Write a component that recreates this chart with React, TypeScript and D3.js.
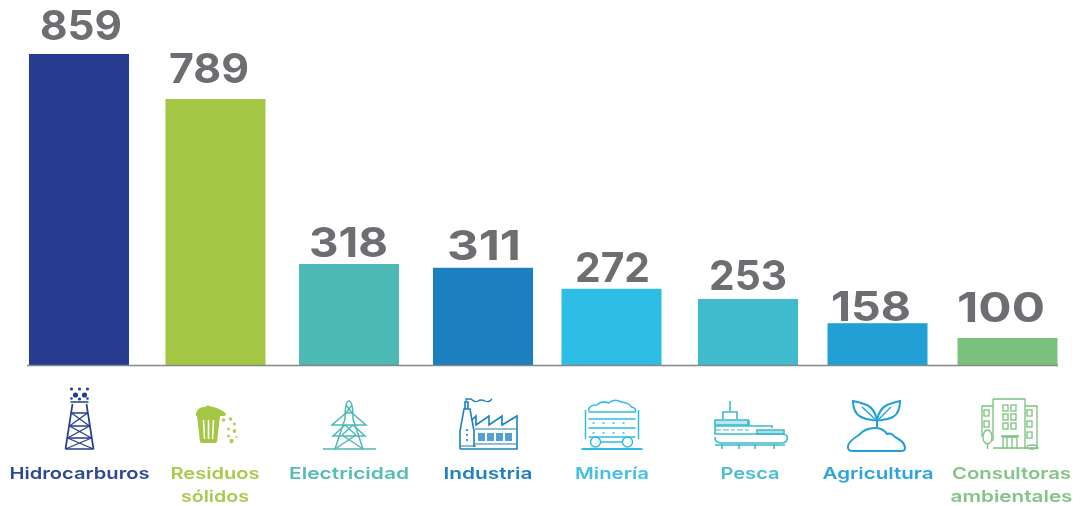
import React from "react";
import * as d3 from "d3";

const categories = ["Hidrocarburos", "Residuos sólidos", "Electricidad", "Industria", "Minería", "Pesca", "Agricultura", "Consultoras ambientales"];
const values = [859, 789, 318, 311, 272, 253, 158, 100];
const colors = ["#253c8f", "#a3c644", "#4db9b5", "#1c80c0", "#2fbde4", "#3fbacd", "#20a0d6", "#7bc07f"];
const labelColors = ["#2f4796", "#a8cb4c", "#55bcb6", "#2180c2", "#45bfe8", "#4dbdd0", "#2fa3dc", "#85c488"];
const labelLines = [["Hidrocarburos"], ["Residuos", "sólidos"], ["Electricidad"], ["Industria"], ["Minería"], ["Pesca"], ["Agricultura"], ["Consultoras", "ambientales"]];

// Layout of the source graphic: uneven column centres, and a non-proportional value→height mapping
const centers = [79, 215.5, 349, 483, 611.5, 748, 877.5, 1007.5];
const valueCenters = [81, 209, 348.5, 484, 612.5, 748, 871, 1001];
const valueWidths = [82, 80, 79, 74, 75, 78, 80, 88];
const valueGaps = [14, 16, 7, 8, 7, 9, 2, 16];
const labelCenters = [79.5, 215, 349, 488, 612, 750, 878, 1011.5];
const labelWidths = [140, 89, 120, 89, 74, 59, 111, 119];
const labelWidths2 = [0, 68, 0, 0, 0, 0, 0, 122];
const BAR_W = 100;
const BASE = 365;
const heightDomain = [0, 100, 253, 318, 789, 859];
const heightRange = [0, 27, 66, 101, 266, 311];

const x = d3.scaleOrdinal<string, number>().domain(categories).range(centers);
const h = d3.scaleLinear().domain(heightDomain).range(heightRange);

const FONT = "Inter, 'DejaVu Sans', sans-serif";

function Rig({ c }: { c: string }) {
  return (
    <g transform="translate(79.5,449)" fill="none" stroke={c} strokeWidth={1.7}>
      <path d="M-14,0H14M-14,0L-7,-45M14,0L7,-45M-9,-47H9M-8,-36H8M-10,-23H10M-12,-11H12" />
      <path d="M-8,-36L10,-23M8,-36L-10,-23M-10,-23L12,-11M10,-23L-12,-11M-12,-11L14,0M12,-11L-14,0" strokeWidth={1.2} />
      <g fill={c} stroke="none">
        <circle cx={-8} cy={-60} r={1.6} /><circle cx={0} cy={-60} r={1.6} /><circle cx={8} cy={-60} r={1.6} />
        <circle cx={-4} cy={-54} r={2.6} /><circle cx={5} cy={-54} r={2.6} />
        <circle cx={-8} cy={-50.5} r={1.3} /><circle cx={8} cy={-50.5} r={1.3} /><circle cx={0} cy={-50} r={1.6} />
      </g>
    </g>
  );
}

function Bin({ c }: { c: string }) {
  return (
    <g transform="translate(208.5,443)">
      <path d="M-11.5,-27H11.5L8.5,-1Q8,0 6,0H-6Q-8,0 -8.5,-1Z" fill={c} />
      <path d="M-5,-23L-4,-4M0,-23V-4M5,-23L4,-4" stroke="#fff" strokeWidth={1.6} fill="none" />
      <path d="M-12.5,-30Q-10,-37 -3,-36Q-1,-38.5 2,-36.5Q10,-36 18,-29L16,-27H-12.5Z" fill={c} />
      <g fill={c} opacity={0.85}>
        <circle cx={15} cy={-23} r={1.8} /><circle cx={22} cy={-24} r={1.8} /><circle cx={26} cy={-19} r={1.5} />
        <circle cx={20} cy={-14} r={1.4} /><circle cx={26} cy={-12} r={1.9} /><circle cx={20} cy={-7} r={1.5} />
        <circle cx={23} cy={-2} r={2.2} /><circle cx={28} cy={-6} r={1.1} />
      </g>
    </g>
  );
}

function Pylon({ c }: { c: string }) {
  return (
    <g transform="translate(349,449)" fill="none" stroke={c} strokeWidth={1.5}>
      <path d="M-26,0H27" strokeWidth={1.6} />
      <path d="M-14,0L-4,-30Q-4,-48 0,-48Q4,-48 4,-30L14,0" />
      <path d="M-14,0L7,-14M14,0L-7,-14M-7,-14L4,-24M7,-14L-4,-24" />
      <path d="M-16,-13H16L4,-24H-4ZM-17,-24H17L3,-36H-3Z" />
      <path d="M-3,-36L3,-44M3,-36L-3,-44" />
    </g>
  );
}

function Factory({ c }: { c: string }) {
  return (
    <g transform="translate(459,449)" fill="none" stroke={c} strokeWidth={1.6}>
      <path d="M1,0H58V-33L43,-24V-33L30,-24V-33L17,-24V-33L13,-29" />
      <path d="M1,0V-18L5,-40H11L15,-18V-2" />
      <path d="M6,-40V-47H9V-40" />
      <path d="M7,-47V-50H12Q16,-46 19,-48T26,-48T33,-50" strokeWidth={1.3} />
      <path d="M16,-20H57M16,-5H57M1,-3H17" strokeWidth={1.2} />
      <g fill={c} opacity={0.75} stroke="none">
        {[18, 27, 36, 45].map((px) => <rect key={px} x={px + 1} y={-16} width={7} height={8} />)}
      </g>
      <path d="M8,-20V-6" strokeDasharray="2 3" />
    </g>
  );
}

function Cart({ c }: { c: string }) {
  return (
    <g transform="translate(612.5,449)" fill="none" stroke={c} strokeWidth={1.5}>
      <path d="M-31,0H30" strokeWidth={2} />
      <path d="M-27,-39V-10M26,-39V-10M-24,-37H23M-24,-30H23M-24,-21H23M-24,-12H23" />
      <path d="M-24,-38Q-24,-44 -16,-44Q-10,-49 -4,-46Q2,-51 9,-47Q17,-46 19,-42Q24,-41 23,-37" />
      <path d="M-20,-26H19M-20,-16H19" strokeDasharray="2 8" />
      <circle cx={-17} cy={-7} r={5} /><circle cx={15} cy={-7} r={5} />
      <path d="M-12,-7H10" />
    </g>
  );
}

function Ship({ c }: { c: string }) {
  return (
    <g transform="translate(751,449)" fill="none" stroke={c} strokeWidth={1.6}>
      <path d="M-36,-23V-15H30Q38,-15 36,-9Q35,-6 30,-6H-30Q-36,-6 -36,-12" />
      <path d="M-29,-5V0M-12,-5V0M4,-5V0M23,-5V0M-36,-4H34" />
      <path d="M-36,-23H-2V-29M-2,-23H21V-21" />
      <path d="M-36,-29H-3V-24H-36Z" fill={c} fillOpacity={0.35} />
      <path d="M6,-15V-19H33V-15Z" fill={c} fillOpacity={0.45} />
      <path d="M-28,-30V-37H-14V-30M-21,-37V-48" />
      <path d="M-36,-19H-16M-14,-19H-2" strokeDasharray="6 2" strokeWidth={1.2} />
    </g>
  );
}

function Plant({ c }: { c: string }) {
  return (
    <g transform="translate(877,451)" fill="none" stroke={c} strokeWidth={2}>
      <path d="M-24,0Q-30,0 -29,-5Q-28,-10 -18,-16Q-12,-23 -2,-23Q6,-23 10,-17Q14,-19 18,-14Q28,-9 28,-3Q28,0 24,0Z" />
      <path d="M0,-23V-31" />
      <path d="M0,-31Q-2,-42 -10,-46Q-18,-49 -24,-50Q-24,-38 -16,-34Q-8,-30 0,-31Z" />
      <path d="M0,-31Q2,-42 10,-46Q18,-49 23,-50Q23,-38 16,-34Q8,-30 0,-31Z" />
      <path d="M-2,-32L-15,-44M2,-32L14,-44" strokeWidth={1.4} />
    </g>
  );
}

function Building({ c }: { c: string }) {
  const win = [[-14, -36], [-6, -36], [-14, -27], [-6, -27], [-14, -18], [-6, -18]];
  return (
    <g transform="translate(1015,449)" fill="none" stroke={c} strokeWidth={1.3}>
      <path d="M-22,-8V-43H-33V-12M-22,-50V-8M-22,-50H10V0M10,-43H22V-2M-22,-1H24" />
      <path d="M-12,0V-12H2V0M-8,-12V0M-3,-12V0M-14,-13H4" />
      {win.map(([a, b]) => <rect key={`${a}${b}`} x={a + 2} y={b - 8} width={5} height={6} />)}
      <rect x={12} y={-39} width={5} height={6} /><rect x={12} y={-28} width={5} height={6} /><rect x={12} y={-17} width={5} height={6} />
      <rect x={-31} y={-39} width={5} height={6} /><rect x={-31} y={-28} width={5} height={6} />
      <ellipse cx={-27.5} cy={-12} rx={4.5} ry={7} />
      <path d="M-27.5,-5V0" />
      <ellipse cx={17} cy={-2} rx={5} ry={2} />
    </g>
  );
}

const icons = [Rig, Bin, Pylon, Factory, Cart, Ship, Plant, Building];

export default function App() {
  return (
    <svg width={1080} height={506} viewBox="0 0 1080 506" style={{ position: "absolute", left: 0, top: 0, background: "#fff" }} fontFamily={FONT}>
      <defs>
        <filter id="soft" x="-2%" y="-2%" width="104%" height="104%">
          <feGaussianBlur stdDeviation={0.55} />
        </filter>
      </defs>
      <g filter="url(#soft)">
        {categories.map((cat, i) => (
          <rect key={cat} x={x(cat)! - BAR_W / 2} y={BASE - h(values[i])} width={BAR_W} height={h(values[i])} fill={colors[i]} />
        ))}
        <line x1={27} x2={1058} y1={BASE + 0.5} y2={BASE + 0.5} stroke="#858789" strokeWidth={1.6} />
        {categories.map((cat, i) => (
          <text key={cat} x={valueCenters[i]} y={BASE - h(values[i]) - valueGaps[i]} textAnchor="middle" fontSize={41} fontWeight={700} fill="#6d6e71" textLength={valueWidths[i]} lengthAdjust="spacingAndGlyphs">
            {values[i]}
          </text>
        ))}
        {icons.map((Icon, i) => <Icon key={i} c={colors[i]} />)}
        {labelLines.map((lines, i) =>
          lines.map((ln, j) => (
            <text key={ln} x={labelCenters[i]} y={479 + j * 23} textAnchor="middle" fontSize={16.5} fontWeight={600} fill={labelColors[i]}
              textLength={j === 0 ? labelWidths[i] : labelWidths2[i]} lengthAdjust="spacingAndGlyphs">
              {ln}
            </text>
          ))
        )}
      </g>
    </svg>
  );
}
